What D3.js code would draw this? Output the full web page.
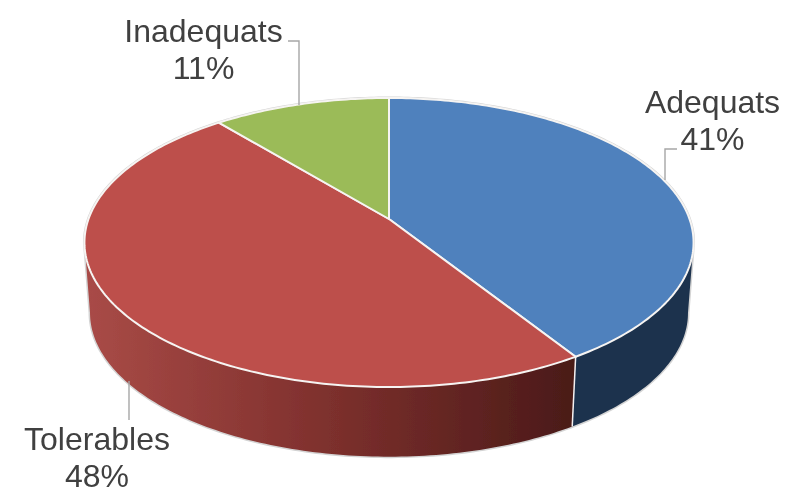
<!DOCTYPE html>
<html>
<head>
<meta charset="utf-8">
<script src="https://cdn.jsdelivr.net/npm/d3@7"></script>
<style>
  html, body { margin: 0; background: #fff; }
  text { font-family: "Liberation Sans", Arial, sans-serif; font-size: 32px; fill: #404040; text-anchor: middle; }
</style>
</head>
<body>
<svg id="chart" width="786" height="487"></svg>
<script>
const categories = ['Adequats', 'Tolerables', 'Inadequats'];
const shares = [41, 48, 11];
const topColors = ['#4f81bd', '#bd4f4c', '#9bbb59'];

const root = d3.select('#chart');
const tau = 2 * Math.PI;

// Reference is a slightly soft bitmap
root.append('defs').append('filter')
  .attr('id', 'soft')
  .append('feGaussianBlur')
  .attr('stdDeviation', 0.4);
const svg = root.append('g').attr('filter', 'url(#soft)');

// Tilted disc: a circle seen in perspective, so the centre sits above the middle of the ellipse
const persp = -0.1626;
function project(angle, disc) {
  const u = Math.sin(angle);
  const v = -Math.cos(angle);
  const w = 1 + persp * v;
  return [disc.x + disc.a * u / w, disc.y + disc.b * v / w];
}
const topDisc = { x: 389, y: 219, a: 300.5, b: 140.7 };
const baseDisc = { x: 389, y: 289.5, a: 295, b: 140 };

const pie = d3.pie().sort(null).value((d) => d);
const slices = pie(shares);
const line = d3.line();

function arcPoints(from, to, disc) {
  const n = Math.max(2, Math.ceil(Math.abs(to - from) * 60));
  return d3.range(n + 1).map((i) => project(from + (to - from) * i / n, disc));
}

// Side wall is only visible between the two widest points of the disc
const wallFrom = Math.acos(persp);
const wallTo = tau - wallFrom;

const defs = root.select('defs');
const redWall = defs.append('linearGradient')
  .attr('id', 'redWall')
  .attr('gradientUnits', 'userSpaceOnUse')
  .attr('x1', 85).attr('x2', 575).attr('y1', 0).attr('y2', 0);
redWall.append('stop').attr('offset', 0).attr('stop-color', '#a94b47');
redWall.append('stop').attr('offset', 0.45).attr('stop-color', '#82322f');
redWall.append('stop').attr('offset', 1).attr('stop-color', '#4a1a18');

const wallFills = ['#1c324e', 'url(#redWall)', '#5b7030'];

// Soft outline round the whole shape
const outline = arcPoints(wallFrom, wallTo, baseDisc)
  .concat(arcPoints(wallTo, wallFrom + tau, topDisc));
svg.append('path')
  .attr('d', `${line(outline)}Z`)
  .attr('fill', '#fff')
  .attr('stroke', '#d4d4d4')
  .attr('stroke-width', 3)
  .attr('stroke-linejoin', 'round');

// Walls
slices.forEach((s, i) => {
  const from = Math.max(s.startAngle, wallFrom);
  const to = Math.min(s.endAngle, wallTo);
  if (to <= from) return;
  const pts = arcPoints(from, to, topDisc).concat(arcPoints(to, from, baseDisc));
  svg.append('path')
    .attr('class', 'wall')
    .attr('d', `${line(pts)}Z`)
    .attr('fill', wallFills[i]);
});

// White seam where blue and red walls meet
slices.slice(0, 1).forEach((s) => {
  svg.append('path')
    .attr('d', line([project(s.endAngle, topDisc), project(s.endAngle, baseDisc)]))
    .attr('stroke', '#f4f0f0')
    .attr('stroke-width', 1.5);
});

// Top face
slices.forEach((s, i) => {
  const pts = [[topDisc.x, topDisc.y]].concat(arcPoints(s.startAngle, s.endAngle, topDisc));
  svg.append('path')
    .attr('class', 'slice')
    .attr('d', `${line(pts)}Z`)
    .attr('fill', topColors[i])
    .attr('stroke', '#f6f4f2')
    .attr('stroke-width', 2)
    .attr('stroke-linejoin', 'round');
});

// Labels and leader lines
const labelPos = [[712.5, 113], [97, 450], [203.5, 42]];
const leaders = [
  [[665, 180], [665, 149], [677, 149]],
  [[129, 381], [129, 420]],
  [[299, 105], [299, 41], [288, 41]],
];
leaders.forEach((pts) => {
  svg.append('path')
    .attr('d', line(pts))
    .attr('fill', 'none')
    .attr('stroke', '#a6a6a6')
    .attr('stroke-width', 1.4);
});
categories.forEach((name, i) => {
  const t = svg.append('text').attr('x', labelPos[i][0]).attr('y', labelPos[i][1]);
  t.append('tspan').attr('x', labelPos[i][0]).text(name);
  t.append('tspan').attr('x', labelPos[i][0]).attr('dy', 36.5).text(`${shares[i]}%`);
});
</script>
</body>
</html>
